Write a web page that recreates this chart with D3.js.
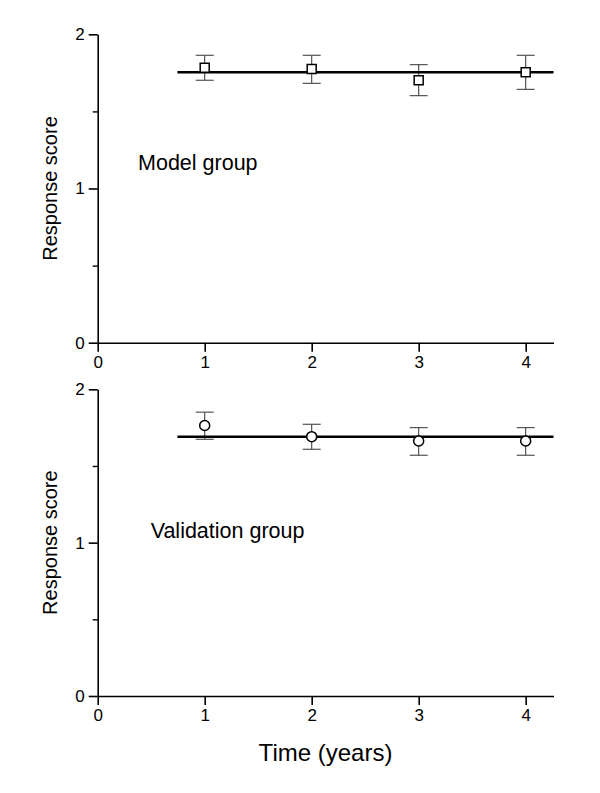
<!DOCTYPE html>
<html>
<head>
<meta charset="utf-8">
<script src="https://cdn.jsdelivr.net/npm/d3@7"></script>
<style>
  body { margin: 0; background: #fff; }
  svg { display: block; }
  text { font-family: Arial, "Liberation Sans", sans-serif; fill: #000; }
</style>
</head>
<body>
<svg id="chart" width="600" height="793"></svg>
<script>
// ---- Data ----
const years = [1, 2, 3, 4];
const xTicks = [0, 1, 2, 3, 4];
const yTicks = [0, 1, 2];
const yMinorTicks = [0.5, 1.5];

const modelMean  = [1.783, 1.775, 1.702, 1.754];
const modelUpper = [1.864, 1.864, 1.803, 1.864];
const modelLower = [1.702, 1.682, 1.602, 1.643];
const modelFit   = 1.754;

const validMean  = [1.764, 1.691, 1.663, 1.663];
const validUpper = [1.851, 1.772, 1.750, 1.750];
const validLower = [1.674, 1.609, 1.570, 1.570];
const validFit   = 1.691;

const fitRange = [0.745, 4.26];
const panelLabels = ["Model group", "Validation group"];
const yTitle = "Response score";
const xTitle = "Time (years)";

// ---- Drawing ----
const svg = d3.select("#chart");
const x = d3.scaleLinear().domain([0, 4.26]).range([97.7, 553.5]);

const panels = [
  { top: 34.3, bottom: 342.7, mean: modelMean, upper: modelUpper, lower: modelLower, fit: modelFit,
    marker: "square", label: panelLabels[0], labelPos: [0.377, 1.12] },
  { top: 389.3, bottom: 696, mean: validMean, upper: validUpper, lower: validLower, fit: validFit,
    marker: "circle", label: panelLabels[1], labelPos: [0.495, 1.03] }
];

panels.forEach(p => {
  const y = d3.scaleLinear().domain([0, 2]).range([p.bottom, p.top]);
  const g = svg.append("g");

  // x axis
  const xa = g.append("g").attr("transform", `translate(0,${p.bottom})`)
    .call(d3.axisBottom(x).tickValues(xTicks).tickFormat(d3.format("d")).tickSizeInner(9).tickSizeOuter(0).tickPadding(4));
  xa.attr("font-size", 17).attr("font-family", "Arial, 'Liberation Sans', sans-serif");
  xa.select(".domain").attr("stroke", "#000").attr("stroke-width", 1.6);
  xa.selectAll(".tick line").attr("stroke", "#000").attr("stroke-width", 1.6);
  xa.selectAll(".tick text").style("font-size", "17px");

  // y axis
  const ya = g.append("g").attr("transform", `translate(${x(0)},0)`)
    .call(d3.axisLeft(y).tickValues(yTicks).tickFormat(d3.format("d")).tickSizeInner(9).tickSizeOuter(0).tickPadding(4));
  ya.attr("font-size", 17).attr("font-family", "Arial, 'Liberation Sans', sans-serif");
  ya.select(".domain").attr("stroke", "#000").attr("stroke-width", 1.6);
  ya.selectAll(".tick line").attr("stroke", "#000").attr("stroke-width", 1.6);
  ya.selectAll(".tick text").style("font-size", "17px");

  // minor y ticks
  const ym = g.append("g").attr("transform", `translate(${x(0)},0)`)
    .call(d3.axisLeft(y).tickValues(yMinorTicks).tickFormat("").tickSizeInner(5).tickSizeOuter(0));
  ym.select(".domain").remove();
  ym.selectAll(".tick line").attr("stroke", "#000").attr("stroke-width", 1.4);

  // error bars
  const eb = g.append("g").attr("stroke", "#444").attr("stroke-width", 1.1).attr("fill", "none");
  years.forEach((yr, i) => {
    const cx = x(yr);
    eb.append("line").attr("x1", cx).attr("x2", cx).attr("y1", y(p.upper[i])).attr("y2", y(p.lower[i]));
    eb.append("line").attr("x1", cx - 9).attr("x2", cx + 9).attr("y1", y(p.upper[i])).attr("y2", y(p.upper[i]));
    eb.append("line").attr("x1", cx - 9).attr("x2", cx + 9).attr("y1", y(p.lower[i])).attr("y2", y(p.lower[i]));
  });

  // fitted line
  g.append("line")
    .attr("x1", x(fitRange[0])).attr("x2", x(fitRange[1]))
    .attr("y1", y(p.fit)).attr("y2", y(p.fit))
    .attr("stroke", "#000").attr("stroke-width", 2.4);

  // markers
  const mk = g.append("g").attr("stroke", "#000").attr("stroke-width", 1.5).attr("fill", "#fff");
  years.forEach((yr, i) => {
    if (p.marker === "square") {
      mk.append("rect").attr("x", x(yr) - 4.5).attr("y", y(p.mean[i]) - 4.5).attr("width", 9).attr("height", 9);
    } else {
      mk.append("circle").attr("cx", x(yr)).attr("cy", y(p.mean[i])).attr("r", 5);
    }
  });

  // panel label
  g.append("text").attr("x", x(p.labelPos[0])).attr("y", y(p.labelPos[1]))
    .style("font-size", "21.5px").text(p.label);

  // y title
  const cy = (p.top + p.bottom) / 2;
  g.append("text").attr("transform", `translate(56.5,${cy}) rotate(-90)`)
    .attr("text-anchor", "middle").style("font-size", "20px").text(yTitle);
});

svg.append("text").attr("x", 325.5).attr("y", 761).attr("text-anchor", "middle")
  .style("font-size", "24px").text(xTitle);
</script>
</body>
</html>
